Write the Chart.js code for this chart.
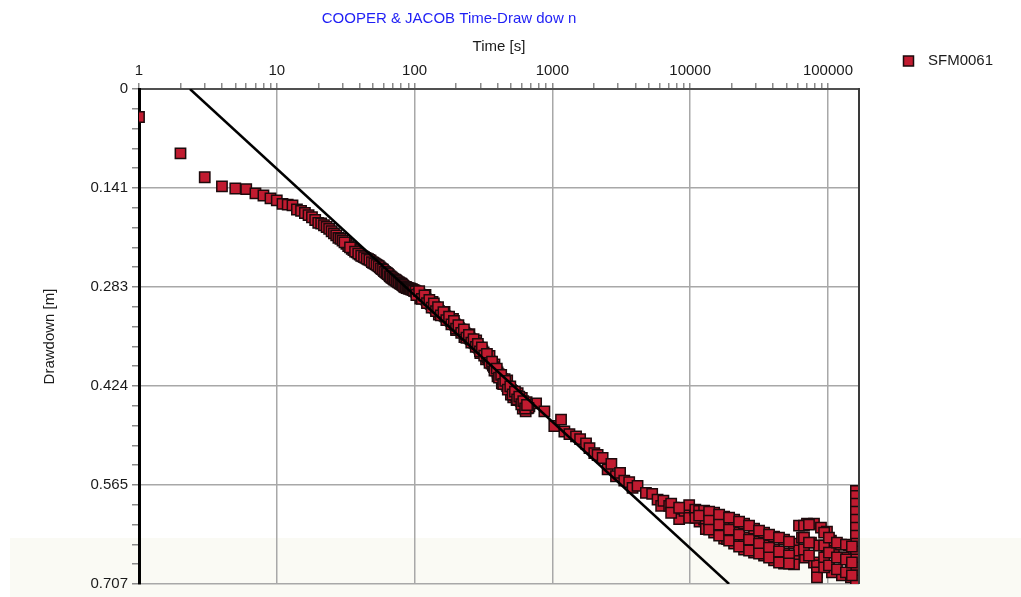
<!DOCTYPE html>
<html><head><meta charset="utf-8">
<script src="https://cdn.jsdelivr.net/npm/chart.js@4/dist/chart.umd.min.js"></script>
<style>html,body{margin:0;padding:0;background:#fff;overflow:hidden}#wrap{width:1021px;height:597px}</style>
</head><body><div id="wrap"><canvas id="c" width="1021" height="597"></canvas></div>
<script>
const chartTitle = 'COOPER & JACOB Time-Draw dow n';
const xTitle = 'Time [s]';
const yTitle = 'Drawdown [m]';
const seriesName = 'SFM0061';
const xMin = 1, xMax = 168000;
const yMin = 0, yMax = 0.7065;
const xMajorTicks = [1, 10, 100, 1000, 10000, 100000];
const xTickLabels = ['1', '10', '100', '1000', '10000', '100000'];
const yTickLabels = ['0', '0.141', '0.283', '0.424', '0.565', '0.707'];

const times = [
  1,2,3,4,5,6,7,8,9,10,11,12,13,14,15,16,17,18,19,20,
  21,22,23,24,25,26,27,28,29,30,32,33,35,36,38,40,42,44,46,48,
  50,52,54,56,58,60,62,65,68,70,73,75,78,80,83,85,88,90,93,95,98,100,
  105,110,115,120,120,125,130,135,140,145,150,150,157,165,172,180,187,190,195,202,
  210,220,230,230,240,250,260,270,280,280,290,300,310,325,330,340,355,370,380,385,
  400,415,430,430,445,460,470,480,500,520,520,540,560,560,580,600,610,620,640,650,660,
  681,762,875,1033,1156,1222,1330,1485,1590,1755,1860,2015,2130,2316,2518,2680,2896,3100,3325,3610,
  3819,4150,4775,5300,5798,6160,6390,7043,7610,8318,9100,9836,9840,10900,11619,11700,
  12630,12630,13000,14300,14920,14920,14920,17640,17640,17640,18540,
  20840,20840,20840,24620,24620,24620,29090,29090,29090,34380,34380,34380,
  40620,40620,40620,48000,48000,48000,56700,56700,56700,
  61660,61660,64800,68140,70440,75300,79180,79180,83230,83230,83230,86060,88980,
  98360,98360,105100,106900,110500,124270,126300,130600,142000,146800,146800,154300,
  159600,159600,159600,159600,159600,159600,159600,159600,159600,159600,159600,159600,159600,
  31,34,37,39,41,43,45,47,49,51,53,55,57,59,61,63,64,66,67,69,71,72,74,76,77,79,81,82,84,86,87,89,91,92,94,96,97,99,
  102,107,112,117,122,127,132,137,142,147,153,160,168,176,183,191,198,206,215,225,235,245,255,265,275,285,295,305,317,332,
  347,362,377,392,407,422,437,452,470,490,510,530,550,570,590,630,670,
  110,135,165,200,250,300,350,400,450,500,550,600,640,
  7280,7280,8318,10900,11620,
  13730,13730,13730,16230,16230,16230,19170,19170,19170,22650,22650,22650,26760,26760,26760,
  31620,31620,31620,37370,37370,37370,44150,44150,44150,52170,52170,52170,
  67000,67000,67000,72830,72830,72830,93800,93800,93800,93800,101700,101700,101700,
  116200,116200,116200,135000,135000,135000,149300,149300,149300,
  103,108,113,118,123,128,133,138,143,148,155,162,170,178,185,193,200,208,218,228,
  238,248,258,268,278,288,298,308,320,335,350,365,380,395,410,425,440,455,475,495,
  515,535,555,575,595,615,635,655
];
const drawdown = [
  0.040,0.092,0.126,0.139,0.142,0.143,0.149,0.152,0.156,0.159,0.164,0.165,0.166,0.172,0.174,0.177,0.180,0.183,0.187,0.191,
  0.192,0.1945,0.197,0.1996,0.203,0.206,0.209,0.2125,0.214,0.2165,0.221,0.2243,0.228,0.230,0.233,0.2364,0.239,0.241,0.243,0.245,
  0.248,0.250,0.252,0.2545,0.257,0.260,0.262,0.2653,0.269,0.271,0.273,0.275,0.277,0.278,0.281,0.2825,0.284,0.2845,0.285,0.286,0.287,0.288,
  0.291,0.2937,0.297,0.2995,0.294,0.303,0.306,0.309,0.3115,0.314,0.3166,0.322,0.320,0.3237,0.327,0.330,0.333,0.328,0.3357,0.338,
  0.3414,0.345,0.3478,0.354,0.352,0.3556,0.359,0.362,0.365,0.359,0.3684,0.371,0.3734,0.378,0.386,0.3833,0.389,0.3947,0.393,0.400,
  0.4046,0.409,0.4138,0.420,0.418,0.4216,0.416,0.426,0.4294,0.433,0.440,0.437,0.440,0.434,0.4436,0.447,0.456,0.450,0.453,0.447,0.4557,
  0.453,0.4486,0.460,0.481,0.472,0.4888,0.4926,0.4959,0.4997,0.506,0.5125,0.5196,0.5224,0.5267,0.543,0.535,0.5527,0.548,0.5589,0.561,
  0.5693,0.5664,0.5764,0.5778,0.586,0.595,0.5877,0.595,0.5977,0.614,0.602,0.5938,0.612,0.6005,0.6023,0.6175,
  0.6019,0.6147,0.628,0.612,0.6048,0.619,0.6332,0.6104,0.626,0.6417,0.6425,
  0.6147,0.6332,0.6488,0.6204,0.6403,0.6573,0.6275,0.646,0.6616,0.6332,0.6516,0.6658,
  0.6388,0.6573,0.6729,0.6431,0.663,0.6772,0.6488,0.6687,0.6786,
  0.6232,0.6587,0.6403,0.6687,0.6204,0.6474,0.6204,0.6758,0.68,0.69,0.697,0.6516,0.626,
  0.6317,0.6545,0.6445,0.69,0.6616,0.6502,0.6942,0.6687,0.6516,0.6758,0.697,0.6516,
  0.5735,0.5806,0.592,0.6033,0.6147,0.626,0.6374,0.6488,0.6601,0.6715,0.6828,0.6942,0.7013,
  0.219,0.226,0.232,0.235,0.238,0.240,0.242,0.244,0.247,0.249,0.251,0.253,0.256,0.258,0.261,0.263,0.264,0.267,0.268,0.270,0.272,0.272,0.274,0.276,0.276,0.278,0.279,0.280,0.282,0.283,0.283,0.284,0.285,0.285,0.286,0.286,0.287,0.288,
  0.289,0.292,0.295,0.298,0.301,0.304,0.307,0.310,0.313,0.315,0.318,0.322,0.325,0.328,0.331,0.334,0.337,0.340,0.343,0.346,0.350,0.354,0.357,0.360,0.363,0.367,0.370,0.372,0.376,0.381,
  0.386,0.392,0.397,0.402,0.407,0.411,0.416,0.420,0.424,0.428,0.431,0.435,0.438,0.442,0.445,0.452,0.455,
  0.299,0.304,0.318,0.344,0.350,0.377,0.381,0.410,0.414,0.436,0.444,0.441,0.460,
  0.592,0.6048,0.5977,0.612,0.609,
  0.6033,0.6161,0.6289,0.6076,0.6218,0.6374,0.6118,0.6289,0.6445,0.6175,0.6360,0.6530,0.6232,0.6431,0.6587,
  0.6303,0.6488,0.6630,0.6360,0.6545,0.6687,0.6403,0.6601,0.6758,0.6459,0.6658,0.6772,
  0.6232,0.6403,0.6573,0.6218,0.6474,0.6658,0.6332,0.6516,0.6687,0.6828,0.6403,0.6616,0.68,
  0.6474,0.6687,0.6857,0.6502,0.6715,0.69,0.6530,0.6758,0.6942,
  0.294,0.2885,0.2995,0.2945,0.3055,0.301,0.312,0.306,0.317,0.3115,0.323,0.3185,0.330,0.325,0.336,0.331,0.342,0.337,0.348,0.343,
  0.355,0.351,0.362,0.357,0.368,0.364,0.3745,0.369,0.3805,0.378,0.391,0.389,0.402,0.399,0.412,0.408,0.421,0.4165,0.429,0.4245,
  0.436,0.432,0.443,0.439,0.450,0.4455,0.456,0.451
];
const fitTimes = [2.343, 19170];
const fitDrawdown = [0, 0.7065];

const xTickValues = [];
for (let d = 0; d <= 5; d++) {
  for (let k = 1; k <= 9; k++) {
    const v = k * Math.pow(10, d);
    if (v <= xMax) xTickValues.push(v);
  }
}
const yTickCount = 25;

const FONT = "'Liberation Sans', Arial, sans-serif";
Chart.defaults.font.family = FONT;
Chart.defaults.font.size = 15;
Chart.defaults.color = '#1a1a1a';

const MARK_FILL = '#c11b30';
const MARK_EDGE = '#1c0a0c';

const bgPlugin = {
  id: 'bg',
  beforeDraw(chart) {
    const c = chart.ctx;
    c.save();
    c.fillStyle = '#ffffff';
    c.fillRect(0, 0, chart.width, chart.height);
    c.fillStyle = '#fafaf4';
    c.fillRect(10, 538, chart.width - 10, chart.height - 538);
    c.restore();
  }
};
const decoPlugin = {
  id: 'deco',
  afterDraw(chart) {
    const c = chart.ctx;
    const a = chart.chartArea;
    c.save();
    c.strokeStyle = '#3a3a3a';
    c.lineWidth = 2;
    c.beginPath();
    c.moveTo(a.right, a.top - 1);
    c.lineTo(a.right, a.bottom);
    c.stroke();
    c.fillStyle = '#1f1ff5';
    c.font = '15px ' + FONT;
    c.textAlign = 'center';
    c.textBaseline = 'middle';
    c.fillText(chartTitle, 449, 19);
    c.fillStyle = MARK_FILL;
    c.strokeStyle = MARK_EDGE;
    c.lineWidth = 1.5;
    c.fillRect(903.5, 56, 10, 10);
    c.strokeRect(903.5, 56, 10, 10);
    c.fillStyle = '#1a1a1a';
    c.textAlign = 'left';
    c.fillText(seriesName, 928, 61);
    c.restore();
  }
};

new Chart(document.getElementById('c'), {
  type: 'scatter',
  data: {
    datasets: [
      {
        type: 'line',
        label: 'fit',
        data: fitTimes.map((t, i) => ({ x: t, y: fitDrawdown[i] })),
        borderColor: '#000',
        borderWidth: 2.5,
        pointRadius: 0,
        fill: false,
        clip: 0,
        order: 0
      },
      {
        label: seriesName,
        data: times.map((t, i) => ({ x: t, y: drawdown[i] })),
        pointStyle: 'rect',
        pointRadius: 7.3,
        backgroundColor: MARK_FILL,
        borderColor: MARK_EDGE,
        borderWidth: 1.5,
        clip: 0,
        order: 1
      }
    ]
  },
  options: {
    responsive: false,
    animation: false,
    devicePixelRatio: 1,
    layout: { padding: { left: 0, top: 0, right: 162, bottom: 10 } },
    plugins: { legend: { display: false }, title: { display: false }, tooltip: { enabled: false } },
    scales: {
      x: {
        type: 'logarithmic',
        position: 'top',
        min: xMin,
        max: xMax,
        afterBuildTicks: s => { s.ticks = xTickValues.map(v => ({ value: v, major: xMajorTicks.includes(v) })); },
        afterFit: s => { s.height = 89; },
        ticks: {
          autoSkip: false, maxRotation: 0, minRotation: 0, padding: 3,
          color: '#1a1a1a',
          font: { size: 15 },
          callback: v => { const i = xMajorTicks.indexOf(v); return i >= 0 ? xTickLabels[i] : ''; }
        },
        grid: {
          color: c => (c.tick && c.tick.major) ? '#a8a8a8' : 'rgba(0,0,0,0)',
          tickColor: '#8a8a8a',
          tickLength: 6,
          lineWidth: 1.5
        },
        border: { display: true, color: '#505050', width: 2 },
        title: { display: true, text: xTitle, color: '#1a1a1a', font: { size: 15 }, padding: { top: 38, bottom: 0 } }
      },
      y: {
        type: 'linear',
        position: 'left',
        reverse: true,
        min: yMin,
        max: yMax,
        afterBuildTicks: s => {
          const arr = [];
          for (let i = 0; i <= yTickCount; i++) arr.push({ value: yMin + (yMax - yMin) * i / yTickCount, major: i % 5 === 0 });
          s.ticks = arr;
        },
        afterFit: s => { s.width = 139; },
        ticks: {
          autoSkip: false, padding: 4,
          color: '#1a1a1a',
          font: { size: 15 },
          callback: (v, i) => (i % 5 === 0 ? yTickLabels[i / 5] : '')
        },
        grid: {
          color: c => (c.tick && c.tick.major) ? '#a8a8a8' : 'rgba(0,0,0,0)',
          tickColor: '#8a8a8a',
          tickLength: 7,
          lineWidth: 1.5
        },
        border: { display: true, color: '#000', width: 3 },
        title: { display: true, text: yTitle, color: '#1a1a1a', font: { size: 15 }, padding: { top: 41, bottom: 0 } }
      }
    }
  },
  plugins: [bgPlugin, decoPlugin]
});
</script>
</body></html>
